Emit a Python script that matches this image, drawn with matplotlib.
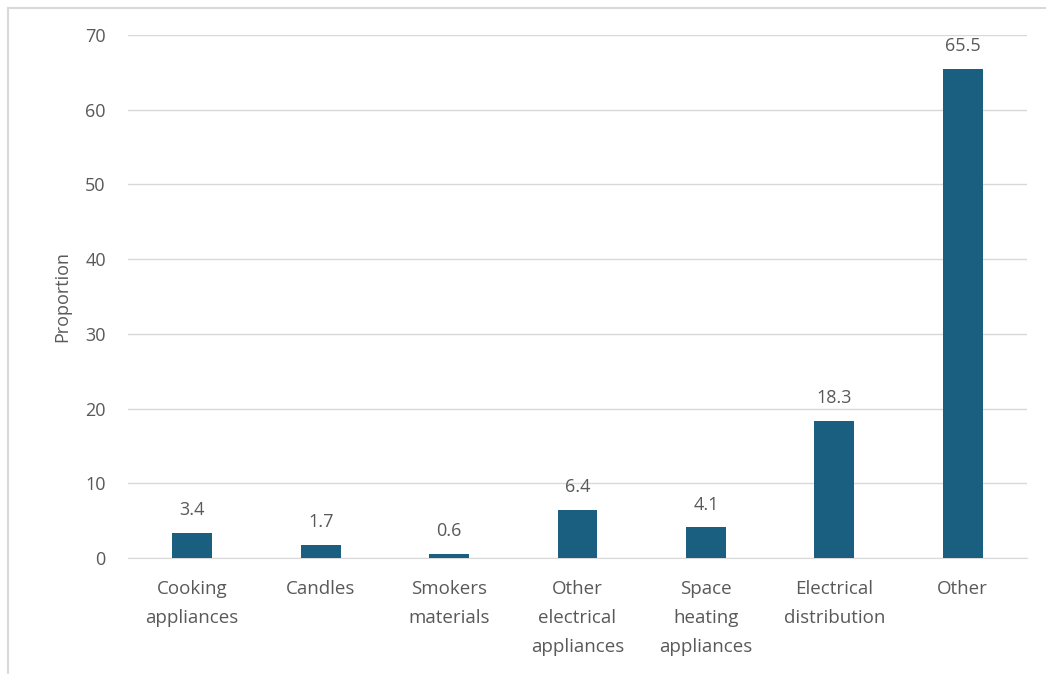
import matplotlib.pyplot as plt
from matplotlib.lines import Line2D

categories = ['Cooking\nappliances', 'Candles', 'Smokers\nmaterials',
              'Other\nelectrical\nappliances', 'Space\nheating\nappliances',
              'Electrical\ndistribution', 'Other']
values = [3.4, 1.7, 0.6, 6.4, 4.1, 18.3, 65.5]
yticks = [0, 10, 20, 30, 40, 50, 60, 70]

plt.rcParams['font.family'] = ['Open Sans', 'DejaVu Sans']
txt = '#595959'

fig = plt.figure(figsize=(10.46, 6.74), dpi=100)
ax = fig.add_axes([0.1224, 0.172, 0.8594, 0.776])

x = range(len(categories))
bars = ax.bar(x, values, width=0.31, color='#1a5f80', zorder=3)

for b, v in zip(bars, values):
    ax.annotate(str(v), (b.get_x() + b.get_width() / 2, v),
                xytext=(0, 10), textcoords='offset points',
                ha='center', va='bottom', fontsize=13, color=txt)

ax.set_xlim(-0.5, len(categories) - 0.5)
ax.set_ylim(0, 70)
ax.set_yticks(yticks)
ax.set_xticks(list(x))
ax.set_xticklabels(categories, fontsize=13.5, color=txt, linespacing=1.78, va='top')
ax.tick_params(axis='y', labelsize=13, labelcolor=txt, length=0, pad=16)
ax.tick_params(axis='x', length=0, pad=16)

ax.grid(axis='y', color='#d9d9d9', linewidth=1, zorder=0)
for s in ['top', 'right', 'left']:
    ax.spines[s].set_visible(False)
ax.spines['bottom'].set_color('#d9d9d9')

ax.set_ylabel('Proportion', fontsize=13, color=txt, labelpad=10)

# light frame around the chart
fig.add_artist(Line2D([8 / 1046, 8 / 1046], [0, 1 - 8 / 674], color='#d9d9d9', lw=1.5))
fig.add_artist(Line2D([8 / 1046, 1], [1 - 8 / 674, 1 - 8 / 674], color='#d9d9d9', lw=1.5))

plt.savefig('out.png')
